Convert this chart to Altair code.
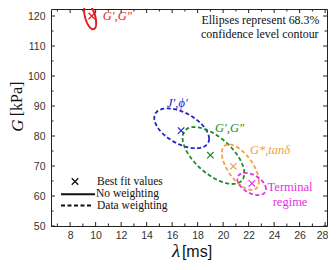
import numpy as np
import pandas as pd
import altair as alt

# ---------------- data ----------------
series = ["red", "blue", "green", "orange", "magenta"]
colors = ["#e31e24", "#2323c8", "#1f8a2a", "#f4a144", "#e233e0"]
weighting = ["No weighting", "Data weighting", "Data weighting", "Data weighting", "Data weighting"]
# confidence ellipses: centre, half extents, correlation
ell_cx = [9.57, 16.75, 19.24, 21.35, 22.24]
ell_cy = [119.8, 82.55, 73.5, 69.6, 64.0]
ell_sx = [0.47, 2.15, 2.42, 1.45, 1.12]
ell_sy = [4.2, 6.65, 9.5, 7.6, 3.7]
ell_rho = [-0.5, -0.52, -0.62, -0.62, -0.45]
# best fit values
best_lam = [9.7, 16.7, 19.0, 20.8, 22.25]
best_G = [120.0, 81.8, 73.6, 69.9, 64.2]
# labels
label_series = ["red", "blue", "green", "orange", "magenta", "magenta"]
label_text = ["G′,G″", "J′,ϕ′", "G′,G″", "G*,tanδ", "Terminal", "regime"]
label_lam = [10.56, 15.6, 19.37, 22.1, 25.25, 25.25]
label_G = [120.0, 90.9, 82.6, 75.3, 63.1, 58.1]
label_style = ["italic", "italic", "italic", "italic", "normal", "normal"]
label_align = ["left", "left", "left", "left", "center", "center"]

x_major = [8, 10, 12, 14, 16, 18, 20, 22, 24, 26, 28]
x_minor = [7, 9, 11, 13, 15, 17, 19, 21, 23, 25, 27]
y_major = [50, 60, 70, 80, 90, 100, 110, 120]
y_minor = [55, 65, 75, 85, 95, 105, 115]

W, H = 276, 217
x_dom = [6.5, 6.5 + W / 12.75]
y_dom = [50, 50 + H / 3]

# --------------- build tables ---------------
rows = []
t = np.linspace(0, 2 * np.pi, 97)
for s, w, cx, cy, sx, sy, r in zip(series, weighting, ell_cx, ell_cy, ell_sx, ell_sy, ell_rho):
    for i, tt in enumerate(t):
        rows.append({"series": s, "w": w, "i": i,
                     "lam": cx + sx * np.cos(tt),
                     "G": cy + sy * (r * np.cos(tt) + np.sqrt(1 - r * r) * np.sin(tt))})
ell = pd.DataFrame(rows)
best = pd.DataFrame({"series": series, "lam": best_lam, "G": best_G})
labs = pd.DataFrame({"series": label_series, "text": label_text, "lam": label_lam,
                     "G": label_G, "style": label_style, "align": label_align})

xs = alt.Scale(domain=x_dom, nice=False, zero=False)
ys = alt.Scale(domain=y_dom, nice=False, zero=False)
cs = alt.Scale(domain=series, range=colors)

lab_font = "Liberation Sans"
serif = "Liberation Serif"

xaxis = alt.Axis(values=x_major, ticks=False, domain=False, grid=False, title=None,
                 labelFont=lab_font, labelFontSize=10.5, labelColor="#333",
                 labelPadding=4, labelFlush=False, labelOverlap=False,
                 labelOffset=alt.ExprRef(expr="datum.value == 28 ? -3 : 0"))
yaxis = alt.Axis(values=y_major, ticks=False, domain=False, grid=False, title=None,
                 labelFont=lab_font, labelFontSize=10.5, labelColor="#333",
                 labelPadding=6, labelOverlap=False)


def X(f):
    return alt.X(f, scale=xs, axis=xaxis)


def Y(f):
    return alt.Y(f, scale=ys, axis=yaxis)


base = alt.Chart(ell).encode(
    x=X("lam:Q"),
    y=Y("G:Q"),
    color=alt.Color("series:N", scale=cs, legend=None),
    detail="series:N",
    order="i:Q",
)
solid = base.transform_filter(alt.datum.w == "No weighting").mark_line(strokeWidth=2, clip=False)
dashed = base.transform_filter(alt.datum.w == "Data weighting").mark_line(strokeWidth=1.8, strokeDash=[4, 2.5])

xshape = "M-1,-1L1,1M-1,1L1,-1"
markers = alt.Chart(best).mark_point(shape=xshape, filled=False, size=42, strokeWidth=1.2, opacity=1).encode(
    x=X("lam:Q"),
    y=Y("G:Q"),
    color=alt.Color("series:N", scale=cs, legend=None),
)

labels = []
for st in ["italic", "normal"]:
    for al in ["left", "center"]:
        sub = labs[(labs["style"] == st) & (labs["align"] == al)]
        if len(sub) == 0:
            continue
        labels.append(alt.Chart(sub).mark_text(font=serif, fontSize=12.5, fontStyle=st, align=al,
                                               baseline="middle").encode(
            x=X("lam:Q"),
            y=Y("G:Q"),
            text="text:N",
            color=alt.Color("series:N", scale=cs, legend=None),
        ))


# ticks (inward, mirrored)
def tick_layer(vals, axis, length):
    d = pd.DataFrame({"v": vals})
    c = alt.Chart(d).mark_rule(color="#222", strokeWidth=1)
    if axis == "x":
        enc = dict(x=X("v:Q"))
        return [c.encode(y=alt.value(H), y2=alt.value(H - length), **enc),
                c.encode(y=alt.value(0), y2=alt.value(length), **enc)]
    enc = dict(y=Y("v:Q"))
    return [c.encode(x=alt.value(0), x2=alt.value(length), **enc),
            c.encode(x=alt.value(W), x2=alt.value(W - length), **enc)]


ticks = (tick_layer(x_major, "x", 4) + tick_layer(x_minor, "x", 2.5)
         + tick_layer(y_major, "y", 4) + tick_layer(y_minor, "y", 2.5))

one = pd.DataFrame({"a": [0]})


def txt(text, x, y, **kw):
    return alt.Chart(one).mark_text(text=text, **kw).encode(x=alt.value(x), y=alt.value(y))


annots = [
    txt("Ellipses represent 68.3%", 150.5, 10.5, font=serif, fontSize=11.9, align="left", baseline="middle", color="#111"),
    txt("confidence level contour", 150, 24.5, font=serif, fontSize=11.9, align="left", baseline="middle", color="#111"),
    # legend
    txt("Best fit values", 46, 173, font=serif, fontSize=11.5, align="left", baseline="middle", color="#111"),
    txt("No weighting", 45, 185, font=serif, fontSize=11.5, align="left", baseline="middle", color="#111"),
    txt("Data weighting", 46, 197, font=serif, fontSize=11.5, align="left", baseline="middle", color="#111"),
    # axis titles
    txt("λ", 125, 247.5, font=serif, fontSize=19, fontStyle="italic", align="center", baseline="alphabetic", color="#111"),
    txt("[ms]", 146, 247.5, font=lab_font, fontSize=16, align="center", baseline="alphabetic", color="#111"),
    txt("G", -33, 116.5, font=serif, fontSize=17, fontStyle="italic", angle=270, align="center", baseline="middle", color="#111"),
    txt("[kPa]", -34, 90, font=serif, fontSize=16, angle=270, align="center", baseline="middle", color="#111"),
]

leg_marker = alt.Chart(one).mark_point(shape=xshape, filled=False, size=42, strokeWidth=1.3, color="#111", opacity=1).encode(
    x=alt.value(24), y=alt.value(172.5))
leg_solid = alt.Chart(one).mark_rule(color="#111", strokeWidth=2).encode(
    x=alt.value(10), x2=alt.value(44), y=alt.value(185.3))
leg_dash = alt.Chart(one).mark_rule(color="#111", strokeWidth=2, strokeDash=[4, 2.5]).encode(
    x=alt.value(10), x2=alt.value(41), y=alt.value(196.5))

chart = alt.layer(solid, dashed, markers, *labels, *ticks, *annots, leg_marker, leg_solid, leg_dash).properties(
    width=W, height=H,
    autosize=alt.AutoSizeParams(type="none"),
    padding={"left": 43, "top": 1, "right": 1, "bottom": 36},
    background="white",
).configure_view(stroke="#222", strokeWidth=1)

chart.save("out.html", embed_options={"renderer": "svg", "actions": False})
